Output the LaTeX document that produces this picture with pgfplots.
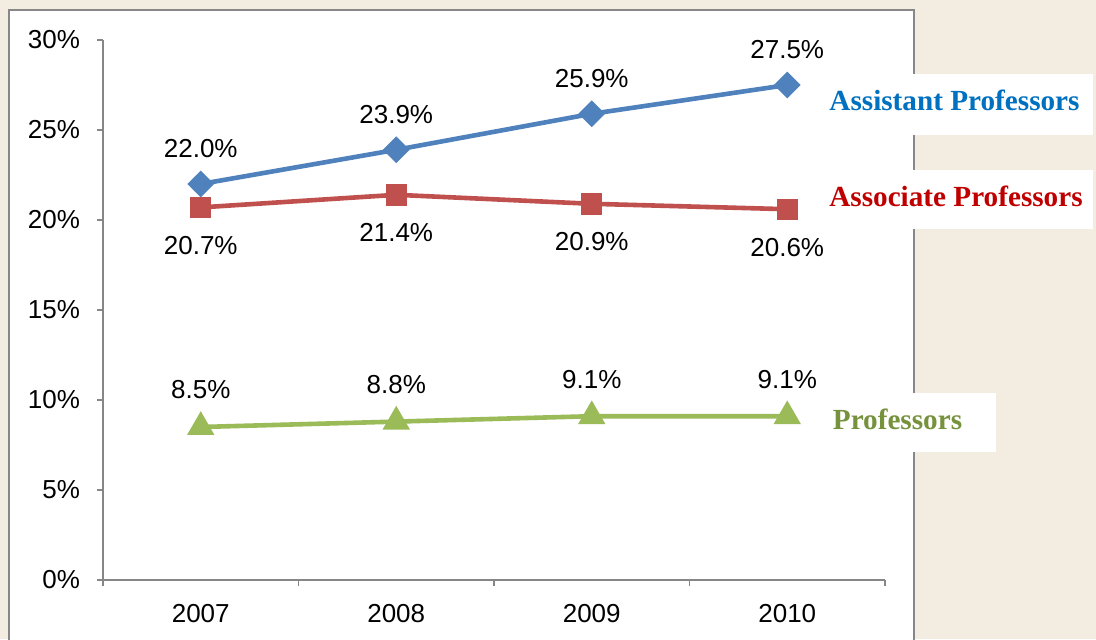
\documentclass[border=0pt]{standalone}
\usepackage{pgfplots}
\pgfplotsset{compat=1.18}
\usepackage{fontspec}
\setmainfont{Liberation Sans}
\newfontfamily\serifb{Liberation Serif}
\definecolor{bgbeige}{HTML}{F3ECE1}
\definecolor{bordergray}{HTML}{878787}
\definecolor{axgray}{HTML}{868686}
\definecolor{cblue}{HTML}{4F81BD}
\definecolor{cred}{HTML}{C0504D}
\definecolor{cgreen}{HTML}{9BBB59}
\definecolor{tblue}{HTML}{0070C0}
\definecolor{tred}{HTML}{C00000}
\definecolor{tgreen}{HTML}{76923C}
\begin{document}
\begin{tikzpicture}
\useasboundingbox (0,0) rectangle (548pt,319.5pt);
\fill[bgbeige] (0,0) rectangle (548pt,319.5pt);
\fill[white] (4.6pt,-5pt) rectangle (457pt,314.5pt);
\draw[bordergray, line width=1pt] (4.6pt,-5pt) -- (4.6pt,314.5pt) -- (457pt,314.5pt) -- (457pt,-5pt);
\begin{axis}[
  at={(51.5pt,29.5pt)}, anchor=south west,
  scale only axis, width=391pt, height=270pt,
  xmin=-0.5, xmax=3.5, ymin=0, ymax=30,
  axis x line*=bottom, axis y line*=left,
  axis line style={axgray, line width=0.8pt},
  every tick/.style={axgray, line width=0.8pt},
  tick align=outside, major tick length=3pt,
  xtick={-0.5,0.5,1.5,2.5,3.5}, xticklabels={},
  extra x ticks={0,1,2,3},
  extra x tick labels={2007,2008,2009,2010},
  extra x tick style={major tick length=0pt},
  ytick={0,5,10,15,20,25,30},
  yticklabels={0\%,5\%,10\%,15\%,20\%,25\%,30\%},
  tick label style={font=\fontsize{13pt}{15pt}\selectfont, black},
  xticklabel style={yshift=-8.5pt},
  yticklabel style={xshift=-5pt},
  clip=false,
  point meta=explicit symbolic,
  nodes near coords,
  every node near coord/.append style={font=\fontsize{13pt}{15pt}\selectfont, black, anchor=center},
]
\addplot[cblue, line width=2.3pt, mark=square*, mark size=3.6pt, mark options={rotate=45, solid},
  every node near coord/.append style={yshift=17.5pt}]
  coordinates {(0,22.0)[22.0\%] (1,23.9)[23.9\%] (2,25.9)[25.9\%] (3,27.5)[27.5\%]};
\addplot[cred, line width=2.3pt, mark=square*, mark size=4.2pt,
  every node near coord/.append style={yshift=-19pt}]
  coordinates {(0,20.7)[20.7\%] (1,21.4)[21.4\%] (2,20.9)[20.9\%] (3,20.6)[20.6\%]};
\addplot[cgreen, line width=2.3pt, mark=triangle*, mark size=5.6pt,
  every node near coord/.append style={yshift=18.5pt}]
  coordinates {(0,8.5)[8.5\%] (1,8.8)[8.8\%] (2,9.1)[9.1\%] (3,9.1)[9.1\%]};
\end{axis}
\fill[white] (410pt,252pt) rectangle (546.5pt,282.5pt);
\fill[white] (410pt,205pt) rectangle (546.5pt,234.5pt);
\fill[white] (410pt,93.5pt) rectangle (498pt,123pt);
\node[text=tblue, font=\serifb\bfseries\fontsize{14.6pt}{16pt}\selectfont] at (477.25pt,269.5pt) {Assistant Professors};
\node[text=tred, font=\serifb\bfseries\fontsize{14.6pt}{16pt}\selectfont] at (478pt,221.5pt) {Associate Professors};
\node[text=tgreen, font=\serifb\bfseries\fontsize{14.6pt}{16pt}\selectfont] at (448.75pt,110pt) {Professors};
\end{tikzpicture}
\end{document}
